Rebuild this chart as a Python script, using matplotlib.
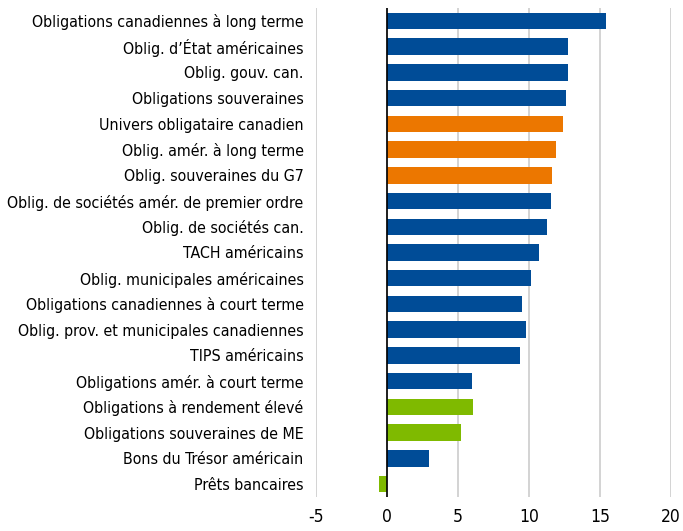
import matplotlib.pyplot as plt

plt.rcParams["font.family"] = ["DejaVu Sans"]
plt.rcParams["font.stretch"] = "condensed"

categories = [
    "Obligations canadiennes à long terme",
    "Oblig. d’État américaines",
    "Oblig. gouv. can.",
    "Obligations souveraines",
    "Univers obligataire canadien",
    "Oblig. amér. à long terme",
    "Oblig. souveraines du G7",
    "Oblig. de sociétés amér. de premier ordre",
    "Oblig. de sociétés can.",
    "TACH américains",
    "Oblig. municipales américaines",
    "Obligations canadiennes à court terme",
    "Oblig. prov. et municipales canadiennes",
    "TIPS américains",
    "Obligations amér. à court terme",
    "Obligations à rendement élevé",
    "Obligations souveraines de ME",
    "Bons du Trésor américain",
    "Prêts bancaires",
]
values = [15.4, 12.73, 12.73, 12.59, 12.38, 11.89, 11.6, 11.54, 11.25, 10.69,
          10.13, 9.5, 9.78, 9.36, 5.98, 6.05, 5.2, 2.95, -0.56]
groups = ["b", "b", "b", "b", "o", "o", "o", "b", "b", "b",
          "b", "b", "b", "b", "b", "g", "g", "b", "g"]
palette = {"b": "#004C97", "o": "#EC7700", "g": "#7FBA00"}
xticks = [-5, 0, 5, 10, 15, 20]

fig = plt.figure(figsize=(6.83, 5.31), dpi=100)
ax = fig.add_axes([0.4627, 0.064, 0.5197, 0.921])

ypos = list(range(len(categories)))
ax.barh(ypos, values, height=0.64, color=[palette[g] for g in groups], zorder=3)
ax.axvline(0, color="black", lw=1.2, zorder=4)

ax.set_xlim(-5, 20)
ax.set_ylim(len(categories) - 0.5, -0.5)
ax.set_xticks(xticks)
ax.set_xticklabels([str(t) for t in xticks], fontsize=12.5)
ax.set_yticks(ypos)
ax.set_yticklabels(categories, fontsize=11.4)
ax.grid(axis="x", color="#cccccc", lw=1.2, zorder=0)
ax.tick_params(axis="y", length=0, pad=9)
ax.tick_params(axis="x", length=0, pad=8)
for s in ax.spines.values():
    s.set_visible(False)

fig.savefig("out.png", dpi=100)
